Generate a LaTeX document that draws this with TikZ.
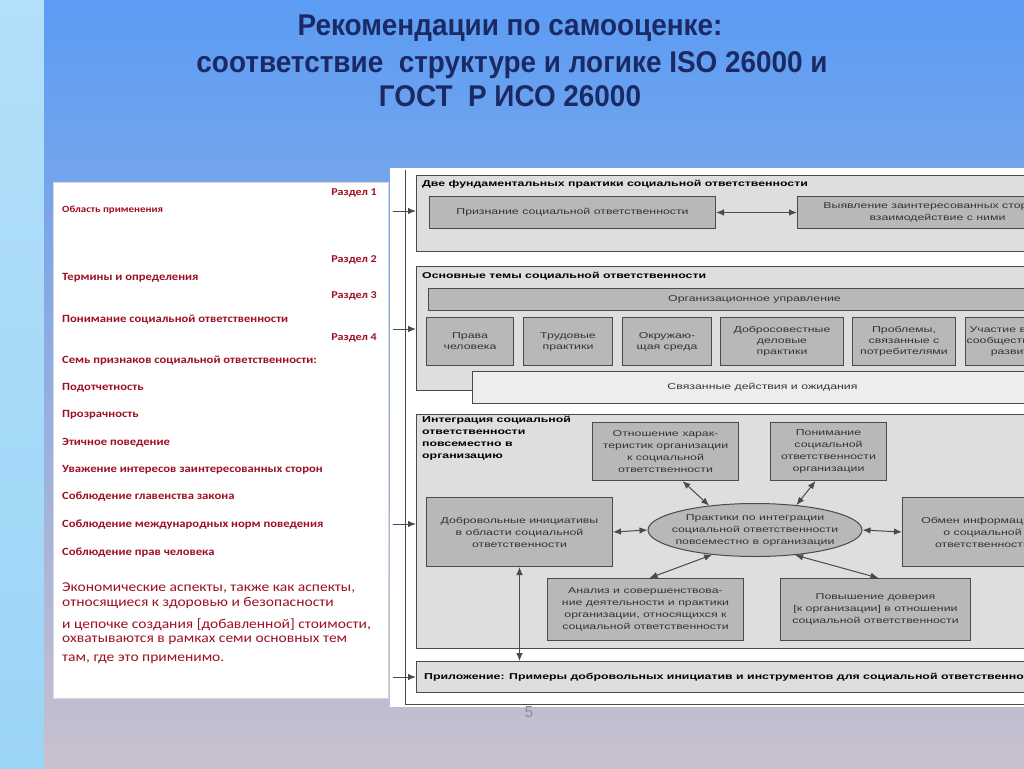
\documentclass[tikz,border=0pt]{standalone}
\usepackage{fontspec}
\setmainfont{Liberation Sans}
\newfontfamily\titlefont[FakeStretch=0.93]{Liberation Sans}
\newfontfamily\panelfont[FakeStretch=1.15]{Carlito}
\newfontfamily\diagfont[FakeStretch=1.45]{Liberation Sans}
\usetikzlibrary{shapes.geometric,arrows.meta}
\definecolor{slideblue}{HTML}{5B9CF4}
\definecolor{slidemid}{HTML}{8AAEE8}
\definecolor{slidegrey}{HTML}{C8C0CE}
\definecolor{stripblue}{HTML}{B2DFFA}
\definecolor{stripdeep}{HTML}{9CD4F6}
\definecolor{titleblue}{HTML}{1B2A64}
\definecolor{panelred}{HTML}{9E1022}
\definecolor{framegrey}{HTML}{4A4A4A}

\begin{document}
\begin{tikzpicture}[x=1pt,y=-1pt,
  frame/.style={draw=framegrey, fill=black!13, line width=1pt, minimum width=640, anchor=north west, inner sep=0pt},
  topic/.style={draw=framegrey, fill=black!28, line width=1pt, anchor=north west, align=center, inner sep=1pt,
    font=\diagfont\fontsize{8.5}{12}\selectfont, text=black!80},
  head/.style={anchor=west, align=left, inner sep=0pt, font=\diagfont\bfseries\fontsize{8.5}{12}\selectfont},
  dbl/.style={<->, >={Latex[length=8pt,width=6.5pt]}, framegrey, line width=1pt},
  feed/.style={->, >={Latex[length=8pt,width=6.5pt]}, framegrey, line width=1pt},
  part/.style={anchor=east, inner sep=0pt, text=panelred, font=\panelfont\bfseries\fontsize{10.5}{12}\selectfont},
  item/.style={anchor=west, inner sep=0pt, text=panelred, font=\panelfont\bfseries\fontsize{11}{12}\selectfont},
  note/.style={anchor=west, inner sep=0pt, text=panelred, font=\panelfont\fontsize{13.5}{16}\selectfont}]
  \useasboundingbox (0,0) rectangle (1024,768);
  \shade[top color=stripblue, bottom color=stripdeep] (0,0) rectangle (44,768);
  \shade[top color=slideblue, middle color=slidemid, bottom color=slidegrey] (44,0) rectangle (1024,768);

  \node[anchor=base, text=titleblue, font=\titlefont\bfseries\fontsize{30}{34}\selectfont] (title1) at (510,36) {Рекомендации по самооценке:};
  \node[anchor=base, text=titleblue, font=\titlefont\bfseries\fontsize{30}{34}\selectfont] (title2) at (512,72) {соответствие\ \ структуре и логике ISO 26000 и};
  \node[anchor=base, text=titleblue, font=\titlefont\bfseries\fontsize{30}{34}\selectfont] (title3) at (510,106) {ГОСТ\ \ Р ИСО 26000};

  \fill[white, draw=black!15] (53,182) rectangle (388,698);
  \foreach \y/\t [count=\i] in {193/Раздел 1, 260/Раздел 2, 296/Раздел 3, 338/Раздел 4}
    \node[part] (part\i) at (377,\y) {\t};
  \node[item, font=\panelfont\bfseries\fontsize{9.5}{11}\selectfont] (scope) at (62,210) {Область применения};
  \foreach \y/\t [count=\i] in {278/Термины и определения, 320/Понимание социальной ответственности,
      361/Семь признаков социальной ответственности:, 388/Подотчетность, 415/Прозрачность,
      443/Этичное поведение, 470/Уважение интересов заинтересованных сторон,
      497/Соблюдение главенства закона, 525/Соблюдение международных норм поведения,
      553/Соблюдение прав человека}
    \node[item] (item\i) at (62,\y) {\t};
  \foreach \y/\t [count=\i] in {588/{Экономические аспекты, также как аспекты,},
      603/относящиеся к здоровью и безопасности, 625/{и цепочке создания [добавленной] стоимости,},
      640/охватываются в рамках семи основных тем, 659/{там, где это применимо.}}
    \node[note] (note\i) at (62,\y) {\t};

  \fill[white] (390,168) rectangle (1024,707);
  \begin{scope}
    \clip (390,168) rectangle (1024,707);
    \draw[framegrey, line width=1pt] (405,170) -- (405,704) -- (1030,704);
    \node[frame, minimum height=76] (box1) at (416,175) {};
    \node[head] (head1) at (422,184) {Две фундаментальных практики социальной ответственности};
    \node[topic, minimum width=286, minimum height=32] (recog) at (429,196) {Признание социальной ответственности};
    \node[topic, minimum width=280, minimum height=32] (stake) at (797,196) {Выявление заинтересованных сторон и\\взаимодействие с ними};
    \draw[dbl] (recog) -- (stake);

    \node[frame, minimum height=124] (box2) at (416,266) {};
    \node[head] (head2) at (422,276) {Основные темы социальной ответственности};
    \node[topic, minimum width=652, minimum height=22] (gov) at (428,288) {Организационное управление};
    \foreach \x/\w/\t [count=\i] in {426/87/{Права\\человека}, 523/89/{Трудовые\\практики}, 622/89/{Окружаю-\\щая среда},
        720/123/{Добросовестные\\деловые\\практики}, 852/103/{Проблемы,\\связанные с\\потребителями},
        965/100/{Участие в жизни\\сообщества и его\\развитие}}
      \node[topic, minimum width=\w, minimum height=48, font=\diagfont\fontsize{8.5}{11}\selectfont] (theme\i) at (\x,317) {\t};
    \node[topic, fill=black!7, minimum width=580, minimum height=32] (related) at (472,371) {Связанные действия и ожидания};

    \node[frame, minimum height=234] (box3) at (416,414) {};
    \node[head, anchor=north west] (head3) at (422,416) {Интеграция социальной\\ответственности\\повсеместно в\\организацию};
    \node[topic, minimum width=146, minimum height=58] (attit) at (592,422) {Отношение харак-\\теристик организации\\к социальной\\ответственности};
    \node[topic, minimum width=116, minimum height=58] (underst) at (770,422) {Понимание\\социальной\\ответственности\\организации};
    \node[topic, minimum width=186, minimum height=69] (vol) at (426,497) {Добровольные инициативы\\в области социальной\\ответственности};
    \node[topic, minimum width=160, minimum height=69] (exch) at (902,497) {Обмен информацией\\о социальной\\ответственности};
    \node[topic, minimum width=196, minimum height=62] (review) at (547,578) {Анализ и совершенствова-\\ние деятельности и практики\\организации, относящихся к\\социальной ответственности};
    \node[topic, minimum width=190, minimum height=62] (trust) at (780,578) {Повышение доверия\\{[к организации]} в отношении\\социальной ответственности};
    \node[topic, ellipse, anchor=center, inner xsep=-8pt, inner ysep=0pt, minimum width=214, minimum height=53] (core) at (755,530) {Практики по интеграции\\социальной ответственности\\повсеместно в организации};
    \draw[dbl] (core.west) -- (vol.east);
    \draw[dbl] (core.east) -- (exch.west);
    \draw[dbl] (core.152) -- ([xshift=17pt]attit.south);
    \draw[dbl] (core.31) -- ([xshift=-13pt]underst.south);
    \draw[dbl] (core.-150) -- ([xshift=4pt]review.north);
    \draw[dbl] (core.-32) -- ([xshift=3pt]trust.north);

    \node[frame, minimum height=31] (annex) at (416,661) {};
    \node[head] (head4) at (424,677) {Приложение: Примеры добровольных инициатив и инструментов для социальной ответственности};
    \draw[dbl] (vol.south) -- (vol.south |- annex.north);

    \foreach \y/\b [count=\i] in {211/box1, 329/box2, 524/box3, 677/annex} {
      \coordinate (in\i) at (393,\y);
      \draw[feed] (in\i) -- (in\i -| \b.west);
    }
  \end{scope}
  \node[text=black!45, font=\titlefont\fontsize{16}{18}\selectfont] (page) at (529,712) {5};
\end{tikzpicture}
\end{document}
